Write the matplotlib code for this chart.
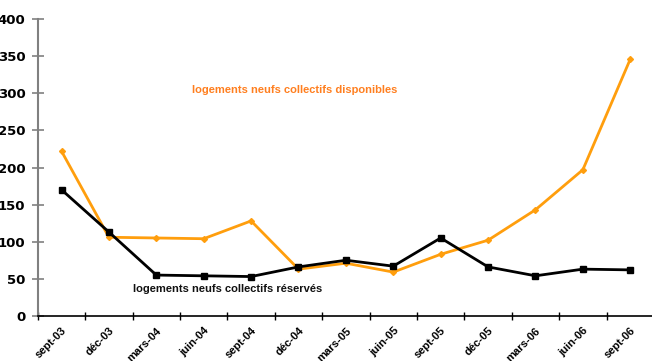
import numpy as np
import matplotlib
matplotlib.use("Agg")
import matplotlib.pyplot as plt

plt.rcParams['font.family'] = ['Liberation Sans', 'DejaVu Sans']
plt.rcParams['font.weight'] = 'bold'

mois = ['sept-03', 'déc-03', 'mars-04', 'juin-04', 'sept-04', 'déc-04', 'mars-05',
        'juin-05', 'sept-05', 'déc-05', 'mars-06', 'juin-06', 'sept-06']
disponibles = [222, 106, 105, 104, 128, 63, 71, 59, 83, 102, 143, 197, 346]
reserves = [170, 113, 55, 54, 53, 66, 75, 67, 105, 66, 54, 63, 62]

fig = plt.figure(figsize=(6.52, 3.61), dpi=100)
ax = fig.add_axes([0.058, 0.125, 0.945, 0.822])

x = np.arange(len(mois))
ax.plot(x, disponibles, '-D', color='#FF9E0D', lw=2, ms=3, mec='#FF9E0D', mfc='#FF9E0D')
ax.plot(x, reserves, '-s', color='black', lw=2, ms=5)

ax.set_xlim(-0.5, len(mois) - 0.5)
ax.set_ylim(0, 400)
ax.set_yticks(np.arange(0, 401, 50))

ax.set_xticks(x)
ax.set_xticklabels(mois, rotation=45, ha='right', rotation_mode='anchor', fontsize=8, fontweight='bold')
ax.set_xticks(np.arange(-0.5, len(mois), 1), minor=True)
ax.tick_params(axis='x', which='major', length=0, pad=7)
ax.tick_params(axis='x', which='minor', length=6, direction='inout', color='black', width=1)
ax.tick_params(axis='y', length=8, direction='inout', color='#808080', width=1.2, labelsize=9.5, pad=5)
for lab in ax.get_yticklabels():
    lab.set_fontweight('bold')
    lab.set_family('DejaVu Sans')

ax.spines['top'].set_visible(False)
ax.spines['right'].set_visible(False)
ax.spines['left'].set_color('#808080')
ax.spines['left'].set_linewidth(1.5)
ax.spines['bottom'].set_color('black')
ax.spines['bottom'].set_linewidth(1.2)

ax.text(4.93, 304, 'logements neufs collectifs disponibles', color='#FF7F1F',
        fontsize=8, fontweight='bold', ha='center', va='center')
ax.text(3.5, 36, 'logements neufs collectifs réservés', color='#111111',
        fontsize=8, fontweight='bold', ha='center', va='center')

fig.savefig('out.png', dpi=100)
